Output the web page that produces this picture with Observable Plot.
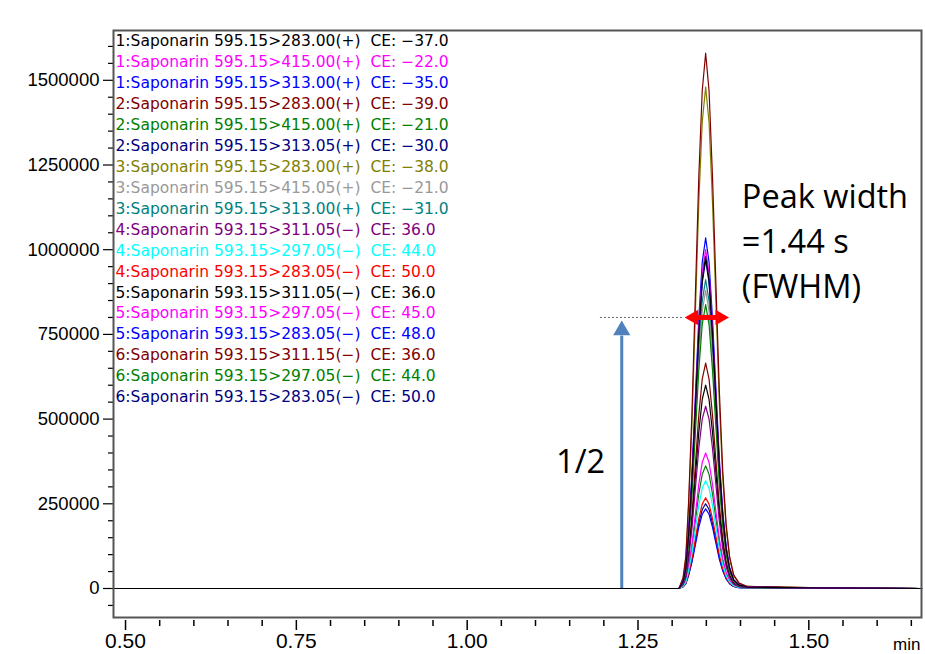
<!DOCTYPE html>
<html><head><meta charset="utf-8">
<script src="https://cdn.jsdelivr.net/npm/d3@7"></script>
<script src="https://cdn.jsdelivr.net/npm/@observablehq/plot@0.6"></script>
<style>body{margin:0;background:#fff;} #chart svg{display:block;}</style>
</head><body><div id="chart"></div>
<script>
// time points (min)
const times = [0.48, 1.310, 1.316, 1.320, 1.324, 1.329, 1.334, 1.339, 1.344, 1.349, 1.354, 1.359, 1.364, 1.369, 1.374, 1.379, 1.384, 1.390, 1.398, 1.410, 1.500, 1.665];

const seriesLabels = [
  "1:Saponarin 595.15>283.00(+)  CE: −37.0",
  "1:Saponarin 595.15>415.00(+)  CE: −22.0",
  "1:Saponarin 595.15>313.00(+)  CE: −35.0",
  "2:Saponarin 595.15>283.00(+)  CE: −39.0",
  "2:Saponarin 595.15>415.00(+)  CE: −21.0",
  "2:Saponarin 595.15>313.05(+)  CE: −30.0",
  "3:Saponarin 595.15>283.00(+)  CE: −38.0",
  "3:Saponarin 595.15>415.05(+)  CE: −21.0",
  "3:Saponarin 595.15>313.00(+)  CE: −31.0",
  "4:Saponarin 593.15>311.05(−)  CE: 36.0",
  "4:Saponarin 593.15>297.05(−)  CE: 44.0",
  "4:Saponarin 593.15>283.05(−)  CE: 50.0",
  "5:Saponarin 593.15>311.05(−)  CE: 36.0",
  "5:Saponarin 593.15>297.05(−)  CE: 45.0",
  "5:Saponarin 593.15>283.05(−)  CE: 48.0",
  "6:Saponarin 593.15>311.15(−)  CE: 36.0",
  "6:Saponarin 593.15>297.05(−)  CE: 44.0",
  "6:Saponarin 593.15>283.05(−)  CE: 50.0"
];
const seriesColors = ["#000000","#ff00ff","#0000ff","#800000","#008000","#000080","#808000","#999999","#008080",
  "#800080","#00ffff","#ff0000","#000000","#ff00ff","#0000ff","#800000","#008000","#000080"];

// intensities (thousands of counts) at each time point
const s1  = [0,0,20,59,157,323,539,755,911,980,911,755,559,363,216,118,59,25,10,4,2,0];
const s2  = [0,0,20,60,160,330,550,770,930,1000,930,770,570,370,220,120,60,25,10,4,2,0];
const s3  = [0,0,21,62,166,342,569,797,963,1035,963,797,590,383,228,124,62,26,10,4,2,0];
const s4  = [0,0,32,95,253,521,869,1217,1469,1580,1469,1217,901,585,348,190,95,40,16,6,3,0];
const s5  = [0,0,17,50,134,277,461,645,779,838,779,645,478,310,184,101,50,21,8,3,2,0];
const s6  = [0,0,19,58,155,320,534,747,902,970,902,747,553,359,213,116,58,24,10,4,2,0];
const s7  = [0,0,30,89,237,488,814,1140,1376,1480,1376,1140,844,548,326,178,89,37,15,6,3,0];
const s8  = [0,0,18,53,141,290,484,678,818,880,818,678,502,326,194,106,53,22,9,4,2,0];
const s9  = [0,0,18,55,146,301,502,702,848,912,848,702,520,337,201,109,55,23,9,4,2,0];
const s10 = [0,0,11,32,86,178,296,414,500,538,500,414,307,199,118,65,32,13,5,2,1,0];
const s11 = [0,0,6,19,51,105,175,245,296,318,296,245,181,118,70,38,19,8,3,1,1,0];
const s12 = [0,0,5,16,43,88,147,206,249,268,249,206,153,99,59,32,16,7,3,1,1,0];
const s13 = [0,0,12,36,96,198,330,462,558,600,558,462,342,222,132,72,36,15,6,2,1,0];
const s14 = [0,0,8,24,64,132,220,308,372,400,372,308,228,148,88,48,24,10,4,2,1,0];
const s15 = [0,0,5,14,38,78,129,181,219,235,219,181,134,87,52,28,14,6,2,1,0,0];
const s16 = [0,0,13,40,106,219,366,512,618,665,618,512,379,246,146,80,40,17,7,3,1,0];
const s17 = [0,0,7,22,58,119,199,279,337,362,337,279,206,134,80,43,22,9,4,1,1,0];
const s18 = [0,0,5,15,40,83,138,193,233,250,233,193,143,93,55,30,15,6,3,1,1,0];
const seriesValues = [s1,s2,s3,s4,s5,s6,s7,s8,s9,s10,s11,s12,s13,s14,s15,s16,s17,s18];

const xTicks = [0.50, 0.75, 1.00, 1.25, 1.50];
const xMinorTicks = [0.55,0.60,0.65,0.70,0.80,0.85,0.90,0.95,1.05,1.10,1.15,1.20,1.30,1.35,1.40,1.45,1.55,1.60,1.65];
const yTicks = [0, 250000, 500000, 750000, 1000000, 1250000, 1500000];
const yMinorTicks = [-50000,50000,100000,150000,200000,300000,350000,400000,450000,550000,600000,650000,700000,800000,850000,900000,950000,1050000,1100000,1150000,1200000,1300000,1350000,1400000,1450000,1550000,1600000];

// annotations
const halfHeight = 800000;
const dottedFrom = 1.195, dottedTo = 1.318;
const redBarFrom = 1.334, redBarTo = 1.367;
const redHeads = [{t: 1.3315, rot: -90}, {t: 1.3700, rot: 90}];
const blueArrowT = 1.2262;
const blueArrowTop = 0.745e6, blueHeadY = 0.762e6;
const noteLines = ["Peak width", "=1.44 s", "(FWHM)"];
const noteT = 1.402;
const noteY = [1.155e6, 1.022e6, 0.889e6];
const halfLabel = "1/2", halfLabelT = 1.166, halfLabelY = 0.372e6;

const rows = [];
for (let i = seriesValues.length - 1; i >= 0; i--) {
  seriesValues[i].forEach((v, j) => rows.push({t: times[j], v: v * 1000, k: i}));
}

const legendMarks = seriesLabels.map((lab, i) => Plot.text([lab], {
  text: d => d, frameAnchor: "top-left", textAnchor: "start", lineAnchor: "middle",
  dx: 2, dy: 11 + i * 20.92, fill: seriesColors[i], fontSize: 15.5, fontFamily: "DejaVu Sans"
}));

const chart = Plot.plot({
  width: 925, height: 654,
  marginLeft: 113, marginRight: 4, marginTop: 30, marginBottom: 37,
  style: {fontFamily: "Liberation Sans, Arial, sans-serif", background: "#fff", color: "#000"},
  x: {domain: [0.4824, 1.6649], label: null},
  y: {domain: [-85600, 1647000], label: null},
  color: {type: "identity"},
  marks: [
    Plot.axisY({ticks: yMinorTicks, tickSize: 5, tickFormat: () => "", label: null, strokeWidth: 1.2}),
    Plot.axisY({ticks: yTicks, tickSize: 10, tickPadding: 4, tickFormat: d3.format("d"), fontSize: 18.5, label: null, strokeWidth: 1.2}),
    Plot.axisX({ticks: xMinorTicks, tickSize: 6, tickFormat: () => "", label: null, dy: 3, strokeWidth: 1.5}),
    Plot.axisX({ticks: xTicks, tickSize: 10, tickPadding: 3, tickFormat: d3.format(".2f"), fontSize: 21, label: null, dy: 3, strokeWidth: 1.5}),
    Plot.text(["min"], {text: d => d, frameAnchor: "bottom-right", textAnchor: "end", lineAnchor: "bottom", dx: -1, dy: 32, fontSize: 17}),
    Plot.line(rows, {x: "t", y: "v", z: "k", stroke: d => seriesColors[d.k], strokeWidth: 1.2}),
    ...legendMarks,
    Plot.ruleY([halfHeight], {x1: dottedFrom, x2: dottedTo, stroke: "#666", strokeWidth: 1, strokeDasharray: "2,2"}),
    Plot.ruleX([blueArrowT], {y1: 0, y2: blueArrowTop, stroke: "#4f81bd", strokeWidth: 3}),
    Plot.dot([blueHeadY], {x: () => blueArrowT, y: d => d, symbol: "triangle", r: 6.4, fill: "#4f81bd", stroke: "none"}),
    Plot.ruleY([halfHeight], {x1: redBarFrom, x2: redBarTo, stroke: "#ff0000", strokeWidth: 5}),
    Plot.dot(redHeads, {x: "t", y: () => halfHeight, rotate: "rot", symbol: "triangle", r: 5.8, fill: "#ff0000", stroke: "none"}),
    Plot.text(noteLines, {x: () => noteT, y: (d, i) => noteY[i], text: d => d, textAnchor: "start", fontSize: 32.5, fontFamily: "Open Sans", fill: "#000"}),
    Plot.text([halfLabel], {x: () => halfLabelT, y: () => halfLabelY, text: d => d, textAnchor: "middle", fontSize: 32.5, fontFamily: "Open Sans", fill: "#000"}),
    Plot.frame({stroke: "#555", strokeWidth: 2})
  ]
});
document.getElementById("chart").appendChild(chart);
</script>
</body></html>
